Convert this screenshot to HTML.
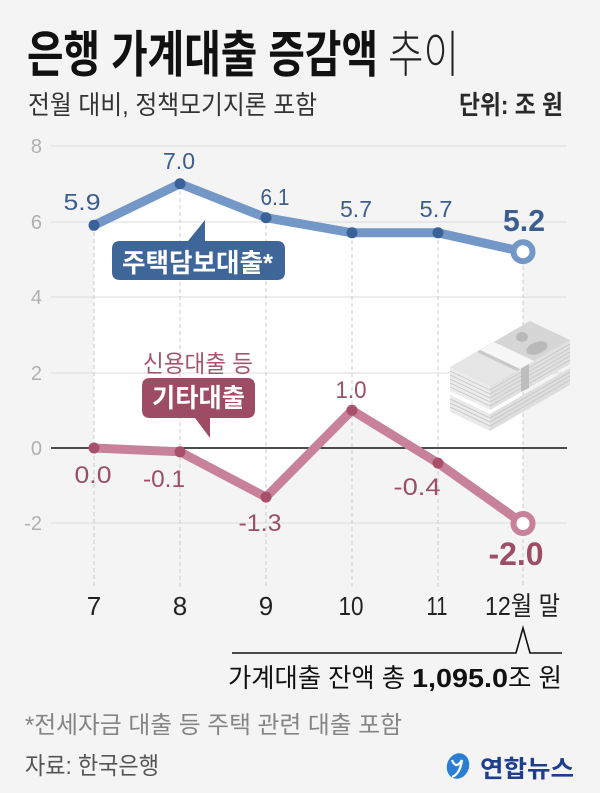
<!DOCTYPE html>
<html><head><meta charset="utf-8"><style>
html,body{margin:0;padding:0;background:#f4f4f4;}
svg{display:block;}
text{font-family:"Liberation Sans","Noto Sans CJK KR",sans-serif;}
</style></head><body>
<svg width="600" height="793" viewBox="0 0 600 793" xmlns="http://www.w3.org/2000/svg">
<rect width="600" height="793" fill="#f4f4f4"/>

<!-- title -->
<text x="27" y="72" font-size="50" font-weight="700" fill="#111" textLength="351" lengthAdjust="spacingAndGlyphs">은행 가계대출 증감액</text>
<text x="388" y="72" font-size="50" font-weight="300" fill="#222" textLength="71" lengthAdjust="spacingAndGlyphs">추이</text>
<text x="28" y="114" font-size="26" fill="#333" textLength="289" lengthAdjust="spacingAndGlyphs">전월 대비, 정책모기지론 포함</text>
<text x="459" y="114" font-size="26" font-weight="700" fill="#2a2a2a" textLength="104" lengthAdjust="spacingAndGlyphs">단위: 조 원</text>

<!-- white fill between lines -->
<polygon points="94,225.3 180,183.75 266,217.7 352,232.8 438,232.8 523,251.7 523,523.5 438,463.1 352,410.25 266,497.1 180,451.8 94,448" fill="#ffffff"/>

<!-- gridlines -->
<g stroke="#dcdcdc" stroke-width="1">
<line x1="51" y1="146" x2="567" y2="146"/>
<line x1="51" y1="222" x2="567" y2="222"/>
<line x1="51" y1="297" x2="567" y2="297"/>
<line x1="51" y1="373" x2="567" y2="373"/>
<line x1="51" y1="523" x2="567" y2="523"/>
</g>
<!-- y labels -->
<g font-size="20" fill="#b0b0b0" text-anchor="end">
<text x="42" y="153">8</text>
<text x="42" y="229">6</text>
<text x="42" y="304">4</text>
<text x="42" y="380">2</text>
<text x="42" y="455">0</text>
<text x="42" y="530">-2</text>
</g>

<!-- dashed verticals -->
<g stroke="#cdcdcd" stroke-width="1" stroke-dasharray="4,3">
<line x1="94" y1="225" x2="94" y2="587"/>
<line x1="180" y1="184" x2="180" y2="587"/>
<line x1="266" y1="218" x2="266" y2="587"/>
<line x1="352" y1="233" x2="352" y2="587"/>
<line x1="438" y1="233" x2="438" y2="587"/>
<line x1="523" y1="252" x2="523" y2="587"/>
</g>

<!-- zero line -->
<line x1="51" y1="448" x2="567" y2="448" stroke="#111" stroke-width="1.5"/>

<!-- money icon -->
<g>
  <!-- bottom stack -->
  <polygon points="450,395 490,414 490,431 450,412" fill="#e9e9e9"/>
  <polygon points="490,414 570,368 570,385 490,431" fill="#dedede"/>
  <g stroke="#c4c4c4" stroke-width="0.8">
    <line x1="450" y1="399" x2="490" y2="418"/><line x1="450" y1="403" x2="490" y2="422"/><line x1="450" y1="407" x2="490" y2="426"/>
    <line x1="490" y1="418" x2="570" y2="372"/><line x1="490" y1="422" x2="570" y2="376"/><line x1="490" y1="426" x2="570" y2="380"/>
  </g>
  <!-- top stack -->
  <polygon points="450,367 490,386 490,410 450,391" fill="#ececec"/>
  <polygon points="490,386 570,340 570,364 490,410" fill="#e0e0e0"/>
  <g stroke="#c6c6c6" stroke-width="0.8">
    <line x1="450" y1="371" x2="490" y2="390"/><line x1="450" y1="375" x2="490" y2="394"/><line x1="450" y1="379" x2="490" y2="398"/><line x1="450" y1="383" x2="490" y2="402"/><line x1="450" y1="387" x2="490" y2="406"/>
    <line x1="490" y1="390" x2="570" y2="344"/><line x1="490" y1="394" x2="570" y2="348"/><line x1="490" y1="398" x2="570" y2="352"/><line x1="490" y1="402" x2="570" y2="356"/><line x1="490" y1="406" x2="570" y2="360"/>
  </g>
  <polygon points="521,368 529,364 529,388 521,392" fill="#bdbdbd"/>
  <!-- top face -->
  <polygon points="450,367 530,321 570,340 490,386" fill="#d6d6d6"/>
  <polygon points="450,367 480,350 520,369 490,386" fill="#e6e6e6"/>
  <polygon points="480,350 494,342 534,361 520,369" fill="#f6f6f6"/>
  <polygon points="477,352 480,350 520,369 517,371" fill="#c9c9c9"/>
  <ellipse cx="522" cy="337" rx="6" ry="5" fill="#b9b9b9"/>
  <ellipse cx="537" cy="348" rx="11" ry="6" fill="#b9b9b9" transform="rotate(-20 537 348)"/>
</g>

<!-- blue series -->
<polyline points="94,225.3 180,183.75 266,217.7 352,232.8 438,232.8 523,251.7" fill="none" stroke="#7397c7" stroke-width="9" stroke-linejoin="round" stroke-linecap="round"/>
<g fill="#3a6299">
<circle cx="94" cy="225.3" r="5.5"/>
<circle cx="180" cy="183.75" r="5.5"/>
<circle cx="266" cy="217.7" r="5.5"/>
<circle cx="352" cy="232.8" r="5.5"/>
<circle cx="438" cy="232.8" r="5.5"/>
</g>
<circle cx="523" cy="251.7" r="9.5" fill="#fff" stroke="#7397c7" stroke-width="6"/>

<!-- red series -->
<polyline points="94,448 180,451.8 266,497.1 352,410.25 438,463.1 523,523.5" fill="none" stroke="#c7819a" stroke-width="9" stroke-linejoin="round" stroke-linecap="round"/>
<g fill="#a84f6a">
<circle cx="94" cy="448" r="5.5"/>
<circle cx="180" cy="451.8" r="5.5"/>
<circle cx="266" cy="497.1" r="5.5"/>
<circle cx="352" cy="410.25" r="5.5"/>
<circle cx="438" cy="463.1" r="5.5"/>
</g>
<circle cx="523" cy="523.5" r="9.5" fill="#fff" stroke="#c7819a" stroke-width="6"/>

<!-- blue labels -->
<g font-size="23" fill="#3b5e8f" text-anchor="middle">
<text x="82" y="210" textLength="37" lengthAdjust="spacingAndGlyphs">5.9</text>
<text x="179" y="169" textLength="32" lengthAdjust="spacingAndGlyphs">7.0</text>
<text x="275" y="205" textLength="29" lengthAdjust="spacingAndGlyphs">6.1</text>
<text x="356" y="217" textLength="32" lengthAdjust="spacingAndGlyphs">5.7</text>
<text x="436" y="217" textLength="33" lengthAdjust="spacingAndGlyphs">5.7</text>
</g>
<text x="524" y="231" font-size="31" font-weight="700" fill="#3b5e8f" text-anchor="middle" textLength="42" lengthAdjust="spacingAndGlyphs">5.2</text>

<!-- red labels -->
<g font-size="24" fill="#9b4e66" text-anchor="middle">
<text x="93" y="483" textLength="37" lengthAdjust="spacingAndGlyphs">0.0</text>
<text x="164" y="487" textLength="42" lengthAdjust="spacingAndGlyphs">-0.1</text>
<text x="260" y="531" textLength="43" lengthAdjust="spacingAndGlyphs">-1.3</text>
<text x="351" y="398" textLength="31" lengthAdjust="spacingAndGlyphs">1.0</text>
<text x="417" y="495" textLength="47" lengthAdjust="spacingAndGlyphs">-0.4</text>
</g>
<text x="516" y="565" font-size="32" font-weight="700" fill="#9b4e66" text-anchor="middle" textLength="55" lengthAdjust="spacingAndGlyphs">-2.0</text>

<!-- blue callout -->
<path d="M120,241 L188,241 L205,220 L205,241 L277,241 Q285,241 285,249 L285,272 Q285,280 277,280 L120,280 Q112,280 112,272 L112,249 Q112,241 120,241 Z" fill="#3f6698"/>
<text x="122" y="272" font-size="26" font-weight="700" fill="#fff" textLength="151" lengthAdjust="spacingAndGlyphs">주택담보대출*</text>

<!-- red callout -->
<text x="143" y="372" font-size="24" fill="#a5566d" textLength="110" lengthAdjust="spacingAndGlyphs">신용대출 등</text>
<path d="M150,378 L247,378 Q255,378 255,386 L255,410 Q255,418 247,418 L210,418 L210,438 L195,418 L150,418 Q142,418 142,410 L142,386 Q142,378 150,378 Z" fill="#9d4c63"/>
<text x="152" y="407" font-size="26" font-weight="700" fill="#fff" textLength="93" lengthAdjust="spacingAndGlyphs">기타대출</text>

<!-- x labels -->
<g font-size="26" fill="#222" text-anchor="middle">
<text x="94" y="615">7</text>
<text x="180" y="615">8</text>
<text x="266" y="615">9</text>
<text x="351" y="615" textLength="25" lengthAdjust="spacingAndGlyphs">10</text>
<text x="437" y="615" textLength="21" lengthAdjust="spacingAndGlyphs">11</text>
</g>
<text x="485" y="615" font-size="26" fill="#222" textLength="75" lengthAdjust="spacingAndGlyphs">12월 말</text>

<!-- bracket -->
<path d="M232,653 L516,653 L523,628 L530,653 L562,653" fill="none" stroke="#111" stroke-width="1.6"/>
<text x="228" y="687" font-size="26" fill="#111" textLength="177" lengthAdjust="spacingAndGlyphs">가계대출 잔액 총</text>
<text x="412" y="687" font-size="26" font-weight="700" fill="#111" textLength="96" lengthAdjust="spacingAndGlyphs">1,095.0</text>
<text x="508" y="687" font-size="26" fill="#111" textLength="54" lengthAdjust="spacingAndGlyphs">조 원</text>

<!-- footnotes -->
<text x="25" y="733" font-size="24" fill="#858585" textLength="377" lengthAdjust="spacingAndGlyphs">*전세자금 대출 등 주택 관련 대출 포함</text>
<text x="25" y="774" font-size="24" fill="#555" textLength="134" lengthAdjust="spacingAndGlyphs">자료: 한국은행</text>

<!-- logo -->
<g>
  <ellipse cx="458" cy="766" rx="11" ry="13" fill="#2a7fd4" transform="rotate(20 458 766)"/>
  <path d="M452,760 Q456,770 462,760 M462,760 Q460,774 452,777" fill="none" stroke="#fff" stroke-width="2.2"/>
</g>
<text x="480" y="777" font-size="24" font-weight="700" fill="#1f3f8c" textLength="94" lengthAdjust="spacingAndGlyphs">연합뉴스</text>
</svg>
</body></html>
